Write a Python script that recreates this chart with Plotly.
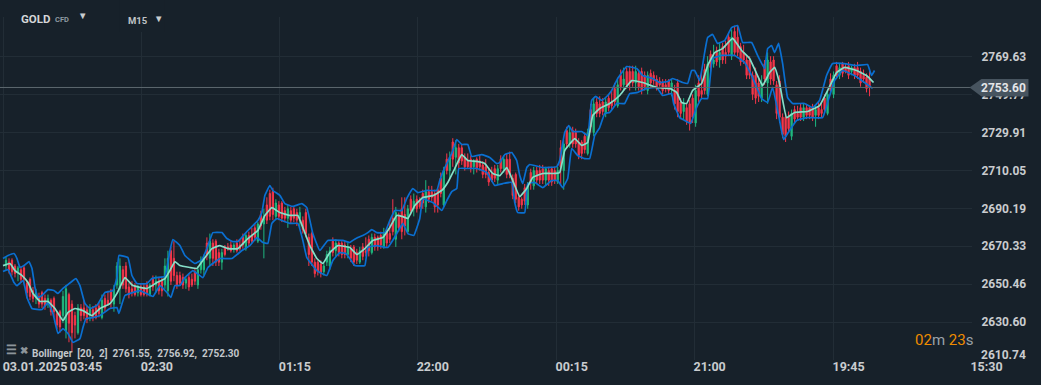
import plotly.graph_objects as go

W, H = 1041, 385
BG = "#17212a"
GRID = "#222d36"
TXT = "#c9cccf"

y_ticks = [2610.74, 2630.60, 2650.46, 2670.33, 2690.19, 2710.05, 2729.91, 2749.77, 2769.63]
y_text = ["", "2630.60", "2650.46", "2670.33", "2690.19", "2710.05", "2729.91", "2749.77", "2769.63"]
bottom_price_label = "2610.74"
x_grid = [3.5, 141.5, 279.5, 418, 556.5, 695, 833.5, 971.5]
x_tick_pos = [20, 71, 142, 280, 418, 557, 695, 834, 972]
x_tick_text = ["03.01.2025", "03:45", "02:30", "01:15", "22:00", "00:15", "21:00", "19:45", "15:30"]
last_price = 2753.60

upper_x = [3,8,14,17,20,24,29,32,35,38,42,48,54,58,63,68,76,80,85,90,97,105,113,117,119,128,132,137,147,152,157,165,170,173,180,185,195,202,207,213,222,227,233,238,248,258,262,265,270,273,280,285,293,302,307,313,320,328,343,350,353,358,363,368,372,377,385,390,395,402,407,413,418,427,437,440,445,452,457,462,468,472,482,490,497,500,505,512,517,520,523,527,530,543,557,560,565,569,573,582,588,592,596,602,608,612,618,627,637,643,653,660,668,673,683,688,692,695,700,705,708,713,718,725,732,738,743,752,758,765,768,772,775,779,783,788,793,805,813,820,827,833,843,857,868,872,875]
upper_v = [2663.9,2665.5,2666.5,2663.9,2659.2,2660.2,2662.3,2658.7,2648.7,2643.5,2644.5,2647.6,2647.1,2645.6,2648.2,2650.3,2653.4,2649.7,2640.3,2637.7,2639.3,2646.1,2647.1,2653.9,2665.5,2664.4,2655.0,2650.8,2650.8,2653.4,2653.9,2654.5,2668.1,2673.9,2670.7,2665.5,2661.3,2663.4,2669.1,2677.5,2677.5,2674.4,2672.8,2672.8,2678.6,2683.8,2688.0,2697.0,2702.2,2699.6,2697.0,2692.7,2691.2,2692.7,2690.6,2677.0,2668.1,2673.4,2673.4,2672.3,2673.4,2674.9,2676.0,2677.5,2679.1,2677.5,2677.5,2683.8,2689.1,2689.1,2695.4,2700.6,2698.5,2699.6,2699.6,2704.8,2711.6,2719.0,2726.3,2723.7,2723.7,2717.4,2718.4,2716.9,2713.7,2714.2,2718.4,2719.5,2715.3,2707.4,2703.2,2711.6,2713.2,2711.6,2712.1,2715.3,2730.0,2733.6,2730.5,2730.5,2728.4,2746.8,2748.9,2746.8,2749.4,2752.0,2758.3,2764.6,2763.5,2759.9,2758.3,2756.2,2756.7,2758.3,2756.2,2755.7,2762.5,2762.5,2757.2,2771.9,2779.8,2781.4,2776.7,2778.2,2785.0,2786.1,2777.2,2777.2,2770.4,2763.5,2774.0,2775.6,2771.9,2776.7,2766.2,2748.3,2745.2,2745.2,2743.1,2746.8,2759.9,2766.2,2766.2,2765.1,2765.6,2759.9,2762.5]

lower_x = [3,8,14,17,23,25,27,32,42,48,53,58,63,68,73,80,83,86,93,100,110,117,119,125,140,153,160,167,171,175,180,185,193,203,208,220,232,242,250,257,263,268,272,277,282,290,298,303,307,317,327,333,340,346,350,355,365,368,377,388,397,403,408,414,420,423,428,433,442,447,452,457,459,467,477,487,495,503,512,515,518,525,528,535,543,552,558,563,568,572,578,585,590,595,600,605,610,617,625,630,638,647,657,663,672,674,680,685,691,697,702,708,713,722,735,745,752,762,768,773,780,784,788,797,807,823,828,835,843,855,865,873]
lower_v = [2657.1,2658.1,2651.3,2649.7,2652.4,2648.7,2643.5,2637.7,2637.2,2640.8,2635.1,2624.6,2627.2,2624.6,2619.9,2621.9,2627.7,2632.4,2632.9,2634.0,2637.7,2638.2,2635.1,2644.5,2647.1,2644.0,2649.7,2646.1,2643.5,2649.7,2649.7,2653.9,2657.6,2653.9,2659.2,2663.9,2663.9,2668.1,2670.7,2674.9,2672.3,2671.8,2682.3,2684.9,2683.8,2682.3,2682.3,2673.4,2664.4,2657.6,2655.0,2662.9,2667.0,2666.5,2663.9,2660.2,2660.2,2669.7,2670.7,2669.7,2677.0,2682.3,2677.0,2676.0,2684.9,2695.4,2694.3,2693.3,2689.1,2694.3,2699.0,2700.6,2711.1,2711.1,2711.1,2709.0,2702.2,2703.2,2703.8,2693.3,2688.0,2688.0,2703.2,2703.8,2701.1,2704.8,2704.8,2701.1,2705.9,2721.6,2717.9,2716.3,2716.3,2728.4,2732.6,2739.9,2740.5,2745.2,2745.2,2750.4,2751.0,2753.1,2753.6,2749.4,2750.4,2745.2,2737.8,2736.3,2734.7,2743.1,2747.8,2747.8,2768.8,2770.4,2770.4,2766.7,2759.9,2747.8,2745.7,2753.6,2736.3,2726.3,2729.5,2736.3,2737.8,2737.8,2745.7,2757.2,2762.5,2759.9,2756.2,2753.1]

middle_x = [3,10,15,22,28,33,40,48,55,63,68,75,83,92,100,110,117,125,133,147,157,165,170,175,180,190,197,203,212,220,228,238,248,258,265,272,280,290,298,303,310,317,323,330,338,350,357,365,373,383,390,397,403,408,415,423,433,442,448,455,462,468,477,485,493,500,507,513,520,527,533,543,553,560,565,575,582,588,593,600,610,620,632,643,657,670,677,682,687,693,702,708,715,723,733,742,750,757,763,770,775,780,787,795,808,820,828,837,845,857,867,874]
middle_v = [2660.2,2661.3,2657.6,2655.0,2651.3,2645.6,2641.4,2641.4,2637.7,2631.4,2635.6,2637.7,2636.6,2634.0,2637.7,2640.3,2645.6,2653.9,2649.7,2648.2,2651.3,2653.4,2657.6,2662.3,2660.2,2659.2,2658.7,2662.9,2669.1,2670.7,2669.1,2669.1,2674.4,2678.6,2686.5,2690.6,2688.0,2686.5,2686.5,2680.2,2670.7,2663.9,2661.3,2667.0,2670.7,2669.7,2666.0,2669.1,2673.4,2674.9,2680.2,2686.5,2685.9,2684.9,2691.7,2695.9,2696.9,2699.6,2703.8,2711.1,2718.4,2715.3,2714.8,2713.7,2708.5,2707.4,2711.6,2704.8,2696.4,2700.6,2706.4,2708.5,2708.5,2709.0,2720.5,2726.8,2723.2,2724.7,2738.9,2742.6,2745.2,2749.4,2757.2,2756.2,2753.6,2753.1,2751.0,2745.7,2745.2,2752.0,2755.7,2765.1,2771.9,2774.0,2779.3,2773.0,2768.8,2760.9,2754.6,2761.4,2764.1,2755.7,2737.8,2740.5,2741.0,2744.1,2752.0,2761.4,2764.1,2762.5,2759.9,2756.2]

bar_x = list(range(6, 877, 6))
bar_open = [2660,2663,2657,2659,2653,2644,2646,2640,2643,2636,2626,2640,2625,2638,2634,2638,2633,2642,2640,2648,2660,2648,2646,2649,2645,2650,2652,2647,2664,2655,2651,2653,2650,2658,2664,2673,2662,2670,2669,2671,2669,2676,2673,2682,2698,2686,2693,2685,2690,2685,2688,2677,2662,2657,2660,2668,2672,2666,2670,2662,2668,2667,2675,2670,2677,2674,2690,2678,2690,2694,2691,2699,2700,2692,2710,2717,2722,2715,2712,2715,2712,2708,2705,2711,2716,2708,2695,2692,2702,2710,2705,2711,2704,2710,2724,2730,2725,2719,2730,2745,2740,2746,2744,2755,2762,2756,2762,2752,2760,2757,2755,2753,2756,2741,2745,2735,2752,2750,2766,2768,2772,2770,2780,2772,2768,2760,2748,2756,2768,2757,2738,2728,2740,2738,2743,2739,2742,2740,2750,2760,2764,2762,2764,2760,2758]
bar_high = [2665,2664,2660,2660,2654,2648,2647,2645,2644,2637,2650,2642,2640,2642,2640,2640,2645,2647,2650,2664,2662,2652,2650,2651,2651,2655,2654,2668,2673,2657,2654,2656,2660,2666,2677,2674,2669,2672,2672,2674,2677,2680,2683,2690,2700,2695,2694,2692,2691,2691,2690,2678,2663,2662,2670,2674,2673,2672,2671,2670,2675,2677,2676,2680,2684,2691,2696,2692,2698,2696,2705,2702,2701,2712,2720,2726,2724,2719,2716,2718,2716,2712,2713,2718,2720,2709,2696,2704,2712,2713,2712,2712,2712,2726,2733,2732,2726,2732,2748,2749,2748,2752,2758,2764,2765,2765,2764,2762,2762,2759,2758,2758,2758,2748,2747,2755,2762,2770,2776,2777,2778,2784,2786,2776,2770,2764,2760,2772,2770,2760,2740,2742,2744,2745,2744,2744,2746,2752,2762,2766,2766,2765,2767,2763,2763]
bar_low = [2658,2655,2652,2651,2642,2640,2638,2638,2633,2625,2622,2615,2624,2632,2631,2632,2632,2639,2636,2640,2646,2644,2644,2644,2644,2646,2644,2644,2652,2650,2648,2649,2648,2655,2660,2660,2658,2668,2667,2668,2668,2672,2672,2664,2684,2684,2683,2680,2683,2680,2675,2660,2655,2655,2658,2665,2664,2664,2660,2661,2665,2666,2668,2669,2672,2670,2674,2677,2686,2690,2688,2694,2688,2691,2706,2708,2713,2711,2708,2710,2706,2704,2703,2709,2706,2693,2690,2690,2700,2703,2702,2702,2703,2700,2722,2722,2716,2718,2728,2738,2738,2742,2743,2752,2752,2752,2750,2750,2755,2754,2751,2749,2738,2737,2731,2733,2748,2749,2764,2764,2766,2768,2770,2766,2758,2745,2746,2745,2755,2735,2725,2726,2736,2736,2737,2733,2738,2739,2748,2758,2761,2760,2758,2756,2749]
bar_close = [2663,2657,2659,2653,2644,2646,2640,2643,2636,2628,2648,2625,2638,2634,2638,2633,2642,2640,2648,2660,2648,2646,2649,2645,2650,2652,2647,2664,2655,2651,2653,2650,2658,2664,2673,2662,2667,2669,2671,2669,2676,2673,2682,2686,2686,2693,2685,2690,2685,2688,2677,2662,2657,2660,2668,2672,2666,2670,2662,2668,2667,2675,2670,2677,2674,2688,2678,2690,2694,2691,2699,2696,2692,2710,2717,2722,2715,2712,2715,2712,2708,2705,2711,2716,2708,2695,2692,2702,2710,2705,2711,2704,2710,2724,2730,2724,2719,2730,2745,2740,2746,2744,2755,2758,2756,2762,2752,2760,2757,2755,2753,2756,2741,2745,2735,2752,2750,2766,2768,2772,2770,2780,2772,2768,2760,2748,2756,2768,2757,2738,2728,2740,2738,2743,2739,2742,2740,2750,2760,2764,2762,2764,2760,2758,2754]

bar2_x = list(range(9, 874, 6))
bar2_open = [2662,2660,2658,2651,2647,2644,2643,2642,2635,2634,2645,2634,2638,2637,2637,2639,2643,2647,2650,2658,2649,2649,2649,2650,2653,2652,2650,2668,2655,2654,2654,2657,2658,2672,2672,2667,2670,2671,2672,2675,2676,2680,2687,2692,2699,2692,2689,2689,2688,2684,2675,2662,2661,2662,2673,2672,2671,2669,2667,2670,2674,2675,2676,2678,2685,2686,2687,2695,2695,2698,2699,2698,2706,2716,2725,2722,2717,2716,2716,2713,2709,2711,2716,2716,2706,2696,2701,2709,2710,2711,2710,2710,2722,2731,2731,2725,2728,2742,2746,2746,2748,2753,2760,2762,2762,2761,2760,2761,2758,2756,2757,2752,2746,2743,2748,2756,2763,2771,2773,2775,2780,2783,2775,2768,2760,2756,2766,2767,2755,2738,2738,2742,2743,2743,2743,2743,2748,2758,2765,2766,2765,2764,2762,2759]
bar2_close = [2658,2656,2653,2646,2643,2640,2639,2636,2629,2644,2630,2629,2634,2632,2633,2635,2638,2642,2660,2650,2645,2645,2645,2646,2649,2647,2660,2652,2650,2650,2649,2652,2663,2666,2664,2662,2666,2668,2668,2671,2672,2675,2681,2684,2687,2686,2685,2684,2684,2679,2666,2656,2656,2666,2667,2667,2666,2664,2663,2665,2668,2670,2671,2672,2678,2680,2681,2689,2690,2693,2695,2691,2698,2710,2716,2714,2712,2711,2711,2708,2704,2706,2711,2708,2697,2691,2694,2704,2705,2705,2705,2705,2712,2724,2724,2718,2721,2733,2740,2741,2743,2746,2754,2755,2756,2754,2754,2756,2754,2752,2752,2745,2740,2736,2738,2749,2752,2764,2767,2768,2772,2772,2767,2760,2750,2749,2758,2758,2740,2729,2732,2737,2738,2739,2738,2739,2742,2752,2760,2761,2760,2760,2756,2753]
bar2_high = [2664,2661,2660,2652,2649,2646,2645,2643,2636,2647,2646,2636,2640,2639,2639,2641,2645,2648,2662,2660,2651,2651,2651,2652,2655,2654,2664,2670,2657,2656,2656,2659,2665,2675,2674,2669,2671,2673,2674,2677,2678,2682,2689,2696,2701,2694,2691,2691,2690,2686,2677,2664,2663,2668,2675,2673,2673,2671,2669,2672,2676,2677,2678,2680,2695,2688,2696,2697,2697,2700,2702,2700,2709,2719,2727,2724,2719,2718,2717,2715,2711,2713,2718,2719,2708,2698,2703,2711,2712,2713,2712,2712,2726,2733,2733,2727,2730,2745,2748,2748,2750,2756,2763,2764,2765,2763,2762,2763,2760,2758,2758,2755,2748,2745,2750,2760,2766,2773,2775,2777,2782,2786,2777,2770,2762,2758,2768,2770,2757,2740,2741,2744,2745,2745,2745,2746,2750,2761,2767,2767,2767,2766,2764,2761]
bar2_low = [2656,2654,2651,2643,2641,2638,2637,2634,2627,2630,2620,2622,2631,2630,2631,2633,2636,2638,2648,2648,2643,2644,2644,2644,2647,2645,2648,2650,2648,2648,2647,2650,2656,2663,2660,2660,2665,2667,2667,2669,2670,2673,2679,2682,2684,2684,2683,2682,2681,2677,2660,2654,2654,2660,2665,2665,2664,2662,2661,2663,2665,2668,2669,2670,2676,2678,2676,2687,2688,2690,2693,2688,2696,2708,2712,2711,2710,2709,2709,2706,2702,2704,2709,2706,2695,2689,2692,2700,2703,2703,2702,2703,2703,2722,2722,2716,2719,2730,2738,2739,2741,2744,2752,2753,2754,2752,2752,2754,2752,2750,2750,2742,2737,2734,2735,2746,2750,2762,2765,2766,2770,2770,2765,2758,2747,2746,2755,2755,2737,2727,2730,2735,2736,2737,2736,2737,2740,2750,2758,2759,2758,2758,2754,2751]

PW, PH = 972.5, 360.0
Y_TOP, Y_BOT = 2799.47, 2610.69

def px(x):
    return x / PW

def py(y):
    return 1 - y / PH

RED, GREEN = "#f5364a", "#1fb87f"
fig = go.Figure()
for xs, o, h, l, c in [(bar_x, bar_open, bar_high, bar_low, bar_close),
                       (bar2_x, bar2_open, bar2_high, bar2_low, bar2_close)]:
    fig.add_trace(go.Candlestick(
        x=xs, open=o, high=h, low=l, close=c,
        increasing=dict(line=dict(color=GREEN, width=1), fillcolor=GREEN),
        decreasing=dict(line=dict(color=RED, width=1), fillcolor=RED),
        whiskerwidth=0, hoverinfo="skip", showlegend=False))
for xs, ys, col, lw in [(upper_x, upper_v, "#0a6fd1", 1.7), (lower_x, lower_v, "#0a6fd1", 1.7), (middle_x, middle_v, "#86dfc9", 1.7)]:
    fig.add_trace(go.Scatter(x=xs, y=ys, mode="lines", hoverinfo="skip", showlegend=False,
                             line=dict(color=col, width=lw, shape="spline", smoothing=0.3)))

shapes = [
    dict(type="rect", xref="paper", yref="paper", x0=0, x1=1, y0=py(17), y1=1.0, layer="above",
         fillcolor=BG, line_width=0),
    dict(type="rect", xref="paper", yref="paper", x0=px(120), x1=px(165), y0=py(32), y1=1.0, layer="above",
         fillcolor=BG, line_width=0),
    dict(type="line", xref="paper", yref="y", x0=0, x1=px(972), y0=last_price, y1=last_price,
         line=dict(color="#5d676f", width=1), layer="above"),
    dict(type="path", xref="paper", yref="paper", layer="above", fillcolor="#47545f", line_width=0,
         path=f"M {px(970)},{py(87.5)} L {px(982)},{py(79)} L {px(1029)},{py(79)} L {px(1029)},{py(96.5)} L {px(982)},{py(96.5)} Z"),
]

def note(text, x, y, size=11, color=TXT, weight="bold", anchor="left"):
    return dict(text=text, xref="paper", yref="paper", x=px(x), y=py(y), showarrow=False,
                xanchor=anchor, yanchor="middle", align="left",
                font=dict(family="Roboto", size=size, color=color, weight=weight))

annotations = [
    note("GOLD", 19, 18.5, 11.5, "#d4d6d8"),
    note("CFD", 53.5, 19.5, 7.5, "#8f9aa2"),
    note("▼", 76, 16, 9.5, "#c9cccf", "normal"),
    note("M15", 126, 20.5, 9.5, "#c0c4c7"),
    note("▼", 152.5, 18, 9.5, "#c9cccf", "normal"),
    note("2753.60", 980, 87.5, 12, "#e4e6e8"),
    note(bottom_price_label, 980, 355, 12, TXT),
    note("<span style='color:#ef8c00'>02</span><span style='color:#9aa2a8'>m</span> "
         "<span style='color:#ef8c00'>23</span><span style='color:#9aa2a8'>s</span>",
         913, 340, 15, "#ef8c00", "normal"),
    note("☰", 4, 349.5, 12, "#8d959b", "bold"),
    note("✖", 18, 350, 10, "#8d959b", "bold"),
    note("Bollinger &nbsp;[20, &nbsp;2] &nbsp;2761.55, &nbsp;2756.92, &nbsp;2752.30", 30, 353.5, 10, "#c3c7ca"),
]

fig.update_layout(
    width=W, height=H, autosize=False, paper_bgcolor=BG, plot_bgcolor=BG,
    margin=dict(l=0, r=W - PW, t=0, b=H - PH), showlegend=False, boxgap=0.4,
    shapes=shapes, annotations=annotations, hovermode=False,
    xaxis=dict(type="linear", range=[0, PW], rangeslider=dict(visible=False), tickmode="array",
               tickvals=x_tick_pos, ticktext=x_tick_text, ticklabelshift=15, ticklabeloverflow="allow",
               ticklabelstandoff=-3,
               showgrid=False, zeroline=False, showline=False, ticks="",
               tickfont=dict(family="Roboto", size=12.5, color=TXT, weight="bold"),
               minor=dict(tickmode="array", tickvals=x_grid, showgrid=True, gridcolor=GRID, gridwidth=1, ticks="")),
    yaxis=dict(range=[Y_BOT, Y_TOP], side="right", tickmode="array", tickvals=y_ticks, ticktext=y_text,
               showgrid=True, gridcolor=GRID, gridwidth=1, zeroline=False, showline=False,
               ticks="outside", ticklen=6, tickcolor=BG,
               tickfont=dict(family="Roboto", size=12, color=TXT, weight="bold")),
)
fig.write_html("out.html", config=dict(displayModeBar=False),
               post_script="document.body.style.margin='0';document.body.style.background='#17212a';")
